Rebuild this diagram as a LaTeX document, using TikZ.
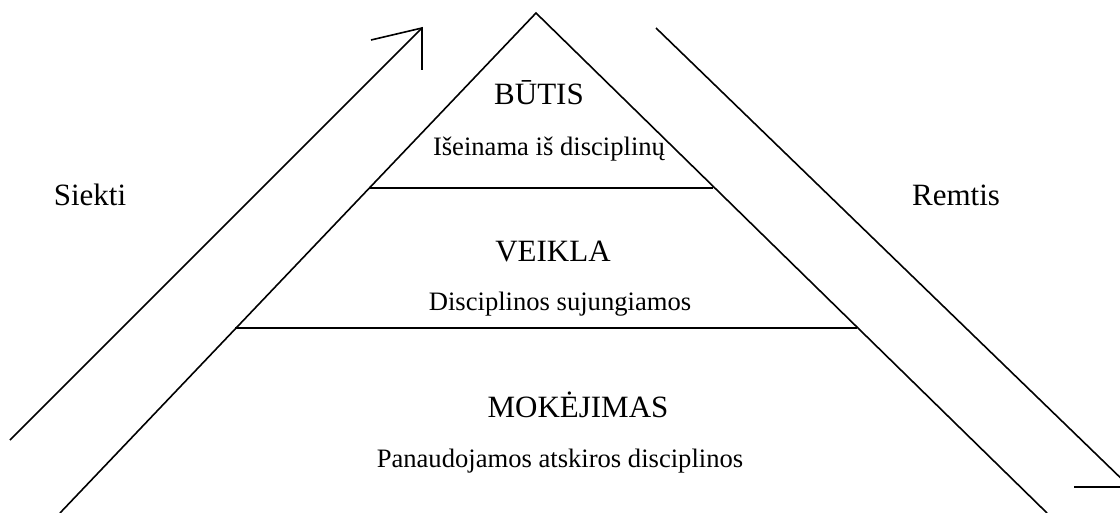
\documentclass[tikz,border=0pt]{standalone}
\usepackage{fontspec}
\setmainfont{Liberation Serif}
\begin{document}
\begin{tikzpicture}[x=1pt,y=-1pt,
  ln/.style={line width=1.6pt,line cap=butt,line join=miter},
  title/.style={anchor=base,inner sep=0pt,font=\fontsize{31}{36}\selectfont},
  sub/.style={anchor=base,inner sep=0pt,font=\fontsize{26.6}{31}\selectfont}]
\useasboundingbox (0,0) rectangle (1120,513);
\clip (0,0) rectangle (1120,513);
% pyramid
\coordinate (apex) at (536,13);
\coordinate (bl) at (60,513);
\coordinate (br) at (1047,513);
\coordinate (l1a) at (370,188);
\coordinate (l1b) at (713,188);
\coordinate (l2a) at (235,328);
\coordinate (l2b) at (857,328);
\draw[ln] (bl) -- (apex) -- (br);
\draw[ln] (l1a) -- (l1b);
\draw[ln] (l2a) -- (l2b);
% left arrow
\coordinate (sa) at (10,440);
\coordinate (st) at (422,28);
\coordinate (sh1) at (371,40);
\coordinate (sh2) at (422,70);
\draw[ln] (sa) -- (st);
\draw[ln] (sh1) -- (st) -- (sh2);
% right arrow (tip beyond edge)
\coordinate (ra) at (656,28);
\coordinate (rt) at (1130,487);
\coordinate (rh1) at (1074,487);
\draw[ln] (ra) -- (rt);
\draw[ln] (rh1) -- (rt);
% labels
\node[title] (butis) at (539,105) {BŪTIS};
\node[sub] (butisS) at (549,156) {Išeinama iš disciplinų};
\node[title] (veikla) at (553,262) {VEIKLA};
\node[sub] (veiklaS) at (560,311) {Disciplinos sujungiamos};
\node[title] (mok) at (578,417) {MOKĖJIMAS};
\node[sub] (mokS) at (560,467) {Panaudojamos atskiros disciplinos};
\node[title] (siekti) at (90,206) {Siekti};
\node[title] (remtis) at (956,206) {Remtis};
\end{tikzpicture}
\end{document}
